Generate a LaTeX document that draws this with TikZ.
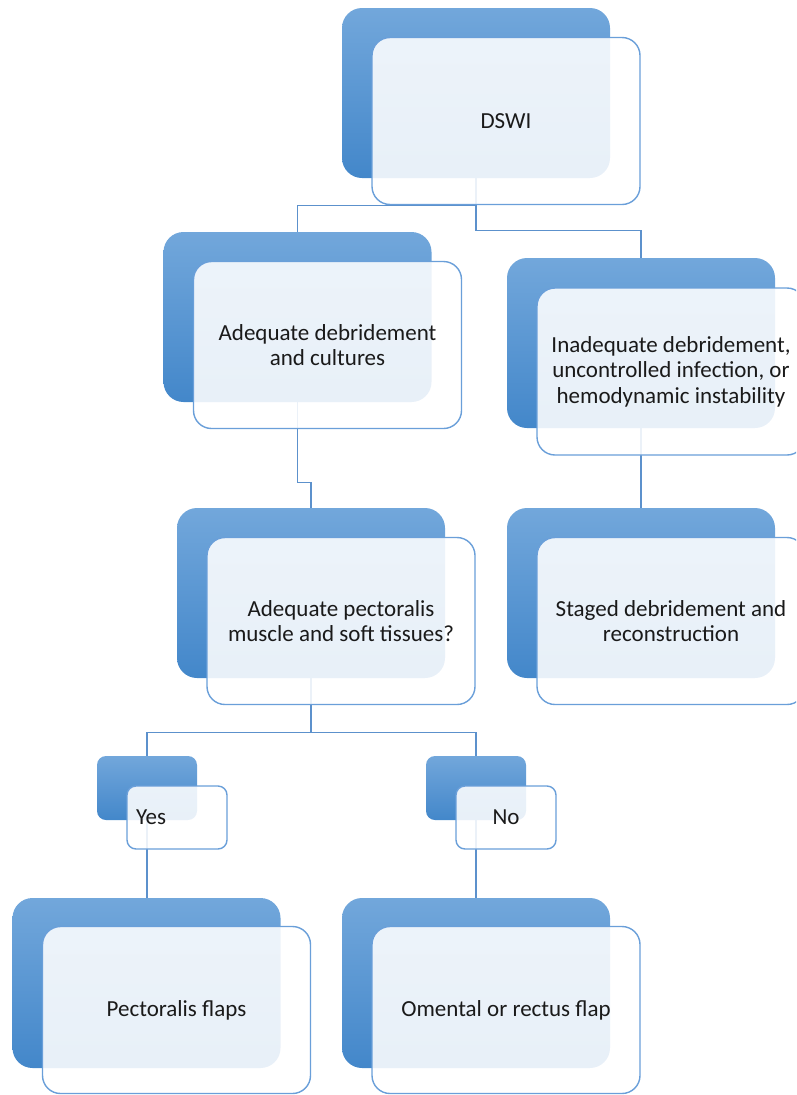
\documentclass[tikz,border=0pt]{standalone}
\usepackage{fontspec}
\setmainfont{Carlito}
\usepackage{xcolor}
\usepackage{tikz}
\usetikzlibrary{positioning,backgrounds}
\definecolor{boxtop}{HTML}{72A7DB}
\definecolor{boxbot}{HTML}{4387CA}
\definecolor{rim}{HTML}{6A9FD9}
\definecolor{wirecol}{HTML}{5C91CC}
\definecolor{ink}{HTML}{1A1A1A}

\begin{document}
\begin{tikzpicture}[
  x=1pt, y=-1pt,
  every node/.style={font=\fontsize{23}{25.5}\selectfont,text=ink},
  back/.style={rounded corners=20pt,top color=boxtop,bottom color=boxbot,minimum width=268pt,minimum height=170pt,inner sep=0pt},
  front/.style={draw=rim,line width=1.4pt,rounded corners=18pt,fill=white,fill opacity=0.88,text opacity=1,minimum width=268pt,minimum height=167pt,inner sep=0pt,align=center},
  smallback/.style={back,minimum width=100pt,minimum height=64pt,rounded corners=9pt},
  smallfront/.style={front,minimum width=100pt,minimum height=63pt,rounded corners=9pt},
  wire/.style={draw=wirecol,line width=1.3pt}
]
\useasboundingbox (0,0) rectangle (796,1095);
\clip (0,0) rectangle (796,1095);
% top level
\node[back] (dswiB) at (476,93) {};
\node[front] (dswi) at (506,121) {DSWI};
% second row
\node[back] (adeqB) at (297.5,317) {};
\node[front] (adeq) at (327.5,345) {Adequate debridement\\and cultures};
\node[back] (inadB) at (641,343) {};
\node[front] (inad) at (671,371.5) {Inadequate debridement,\\uncontrolled infection, or\\hemodynamic instability};
% third row
\node[back] (pectB) at (311,593) {};
\node[front] (pect) at (341,621) {Adequate pectoralis\\muscle and soft tissues?};
\node[back] (stagB) at (641,593) {};
\node[front] (stag) at (671,621) {Staged debridement and\\reconstruction};
% yes / no
\node[smallback] (yesB) at (147,788) {};
\node[smallfront,text width=82pt,inner xsep=9pt,align=left] (yes) at (177,817.5) {Yes};
\node[smallback] (noB) at (476,788) {};
\node[smallfront] (no) at (506,817.5) {No};
% flaps
\node[back] (pflB) at (146.5,983) {};
\node[front] (pfl) at (176.5,1010) {Pectoralis flaps};
\node[back] (omB) at (476,983) {};
\node[front] (om) at (506,1010) {Omental or rectus flap};

\begin{scope}[on background layer]
\draw[wire] (dswiB.south) -- ++(0,27) -| (adeqB.north);
\draw[wire] (dswiB.south) -- ++(0,52) -| (inadB.north);
\draw[wire] (adeqB.south) -- ++(0,80) -| (pectB.north);
\draw[wire] (inadB.south) -- (stagB.north);
\draw[wire] (pectB.south) -- ++(0,54) -| (yesB.north);
\draw[wire] (pectB.south) -- ++(0,54) -| (noB.north);
\draw[wire] (yesB.south) -- (yesB.south |- pflB.north);
\draw[wire] (noB.south) -- (omB.north);
\end{scope}
\end{tikzpicture}
\end{document}
